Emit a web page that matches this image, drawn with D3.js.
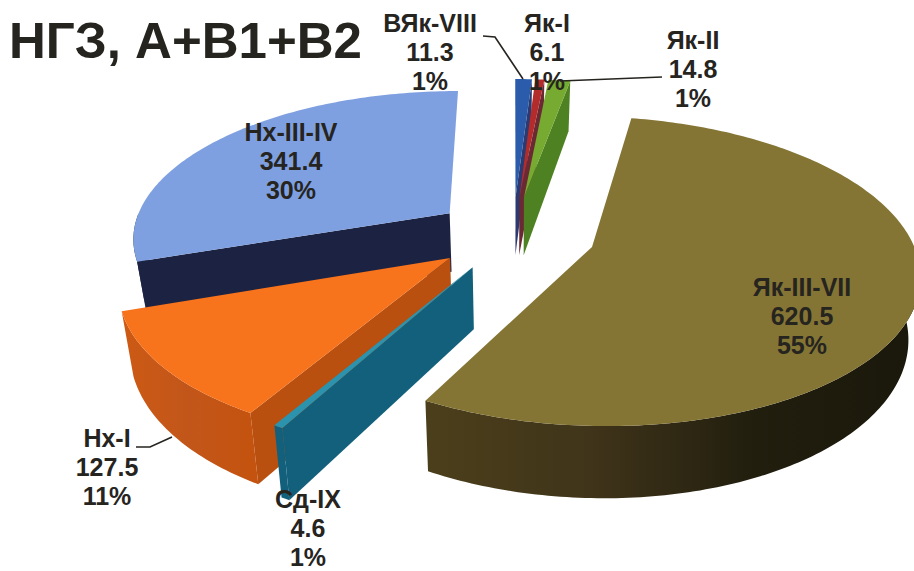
<!DOCTYPE html>
<html lang="ru">
<head>
<meta charset="utf-8">
<script src="https://cdnjs.cloudflare.com/ajax/libs/d3/7.8.5/d3.min.js"></script>
<style>
  html, body { margin: 0; padding: 0; background: #fff; }
  svg { display: block; }
  text { font-family: "Liberation Sans", Arial, sans-serif; font-weight: 700; fill: #26241f; }
</style>
</head>
<body>
<svg id="chart" width="914" height="571"></svg>
<script>
// Reserves by stratigraphic unit
const chartTitle = "НГЗ, А+В1+В2";
const units = ["Як-III-VII", "Сд-IX", "Нх-I", "Нх-III-IV", "ВЯк-VIII", "Як-I", "Як-II"];
const reserves = [620.5, 4.6, 127.5, 341.4, 11.3, 6.1, 14.8];
const shares = ["55%", "1%", "11%", "30%", "1%", "1%", "1%"];

// Per-unit styling: top face, radial wall, and stops of the rim shading
const topColors = ["#857535", "#2b93ad", "#f7731c", "#7fa0e0", "#2a5cab", "#b32c2b", "#76aa30"];
const wallColors = ["#4a3e1a", "#13607c", "#b9500f", "#1c2342", "#2b3a70", "#6b2a33", "#4d8121"];
const rimStops = [
  ["#4b3f1b", "#40341a", "#211e0e", "#1a180b"],
  ["#13607c", "#13607c"],
  ["#cd5a14", "#c2561a", "#c4530f"],
  ["#1c2342", "#1c2342"],
  ["#2b3a70", "#2b3a70"],
  ["#6b2a33", "#6b2a33"],
  ["#4d8121", "#4d8121"]
];
// How far each slice is pulled out of the disc
const sliceExplode = [0.26, 0.25, 0.25, 0.25, 0.26, 0.26, 0.26];
// Painting order, rear slices first
const drawOrder = [3, 4, 5, 6, 2, 1, 0];

// Where each three-line label is centred, and the leader lines
const labelCentres = [[802, 317], [308, 529], [107, 468], [291, 162], [430, 53], [547, 53], [693, 70]];
const leaders = [
  [[483, 36], [495, 37], [523, 79]],
  [[662, 77], [560, 81]],
  [[136, 447], [150, 447], [172, 437]]
];

// View of the tilted disc
const firstAngle = 10.3 * Math.PI / 180;
const perspective = 0.155;
const depth = 60;
const bottomShrink = 0.97;
const xPlane = d3.scaleLinear().domain([-1, 1]).range([513 - 318, 513 + 318]);
const yPlane = d3.scaleLinear().domain([-1, 1]).range([234 - 147, 234 + 147]);

// Project a disc-plane point; level 0 is the top face, level 1 the underside
function project(u, v, level) {
  const s = 1 / (1 - perspective * v);
  const cx = xPlane(0), cy = yPlane(0);
  let x = cx + (xPlane(u) - cx) * s;
  let y = cy + (yPlane(v) - cy) * s;
  if (level) {
    x = cx + (x - cx) * bottomShrink;
    y += depth * s;
  }
  return [x, y];
}

const slices = d3.pie()
  .sort(null)
  .startAngle(firstAngle)
  .endAngle(firstAngle + 2 * Math.PI)(reserves);

const svg = d3.select("#chart");
const defs = svg.append("defs");
const outline = d3.line();

function offsetOf(d) {
  const mid = (d.startAngle + d.endAngle) / 2;
  const e = sliceExplode[d.index];
  return [e * Math.sin(mid), -e * Math.cos(mid)];
}
function rimPoint(d, a, level) {
  const [ou, ov] = offsetOf(d);
  return project(ou + Math.sin(a), ov - Math.cos(a), level);
}
function apexPoint(d, level) {
  const [ou, ov] = offsetOf(d);
  return project(ou, ov, level);
}
function rimAngles(d) {
  const n = Math.max(2, Math.ceil((d.endAngle - d.startAngle) * 60));
  return d3.range(n + 1).map(i => d.startAngle + (d.endAngle - d.startAngle) * i / n);
}

drawOrder.forEach(i => {
  const d = slices[i];
  const g = svg.append("g").attr("class", "slice");
  const angles = rimAngles(d);
  const topArc = angles.map(a => rimPoint(d, a, 0));

  // Horizontal rim shading across the slice's extent
  const xs = topArc.map(p => p[0]);
  const grad = defs.append("linearGradient")
    .attr("id", "rim" + i)
    .attr("gradientUnits", "userSpaceOnUse")
    .attr("x1", d3.min(xs)).attr("x2", d3.max(xs))
    .attr("y1", 0).attr("y2", 0);
  rimStops[i].forEach((c, k, all) => {
    grad.append("stop").attr("offset", k / (all.length - 1)).attr("stop-color", c);
  });

  // Radial walls, only those clearly turned toward the viewer
  const faces = [];
  if (Math.sin(d.startAngle) < -0.05) faces.push(d.startAngle);
  if (Math.sin(d.endAngle) > 0.05) faces.push(d.endAngle);
  faces.forEach(a => {
    g.append("path")
      .attr("d", outline([apexPoint(d, 0), rimPoint(d, a, 0), rimPoint(d, a, 1), apexPoint(d, 1)]) + "Z")
      .attr("fill", wallColors[i]);
  });
  // Curved rim, only along the near half of the disc
  const near = angles.filter(a => Math.cos(a) < 0);
  if (near.length > 1) {
    const nearTop = near.map(a => rimPoint(d, a, 0));
    const nearLow = near.map(a => rimPoint(d, a, 1)).reverse();
    g.append("path")
      .attr("d", outline(nearTop.concat(nearLow)) + "Z")
      .attr("fill", `url(#rim${i})`);
  }
  // Top face
  g.append("path")
    .attr("d", outline([apexPoint(d, 0)].concat(topArc)) + "Z")
    .attr("fill", topColors[i]);
});

// Leader lines
svg.append("g").selectAll("path").data(leaders).join("path")
  .attr("d", outline)
  .attr("fill", "none")
  .attr("stroke", "#26241f")
  .attr("stroke-width", 1.6);

// Three-line data labels
const lineGap = 29;
const labels = svg.append("g").selectAll("text").data(units).join("text")
  .attr("text-anchor", "middle")
  .attr("font-size", 25);
labels.each(function (name, i) {
  const [cx, cy] = labelCentres[i];
  const lines = [name, reserves[i].toFixed(1), shares[i]];
  d3.select(this).selectAll("tspan").data(lines).join("tspan")
    .attr("x", cx)
    .attr("y", (_, k) => cy + 8 + (k - 1) * lineGap)
    .text(t => t);
});

svg.append("text")
  .attr("x", 9).attr("y", 58)
  .attr("font-size", 50)
  .attr("textLength", 353)
  .attr("lengthAdjust", "spacingAndGlyphs")
  .text(chartTitle);
</script>
</body>
</html>
